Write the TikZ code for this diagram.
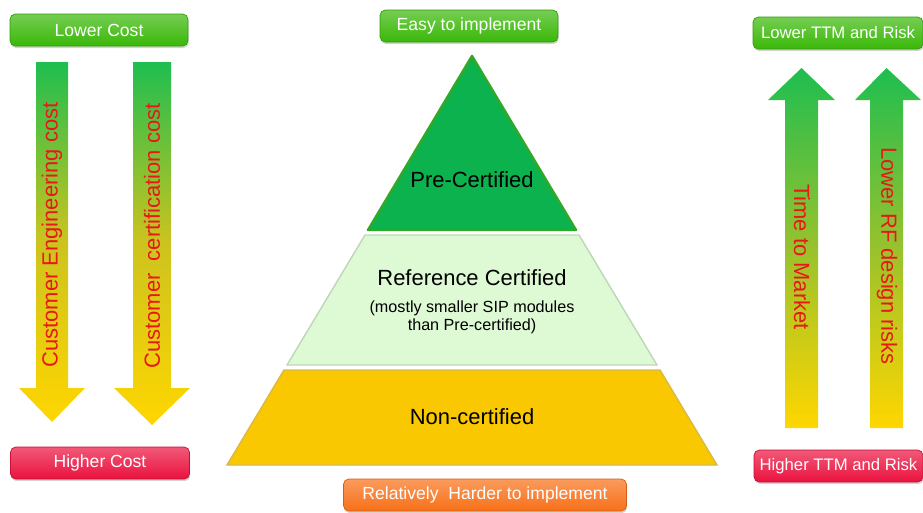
\documentclass[tikz,border=0pt]{standalone}
\usepackage{fontspec}
\setmainfont{Liberation Sans}
\usetikzlibrary{shadows}

\definecolor{tagGreen}{RGB}{58,184,8}
\definecolor{tagRed}{RGB}{234,18,62}
\definecolor{tagOrange}{RGB}{248,112,24}
\definecolor{arrowGreen}{RGB}{30,190,80}
\definecolor{arrowMid}{RGB}{205,195,30}
\definecolor{arrowYellow}{RGB}{255,214,0}
\definecolor{arrowText}{RGB}{232,24,24}
\definecolor{preFill}{RGB}{12,178,78}
\definecolor{preLine}{RGB}{50,168,40}
\definecolor{refFill}{RGB}{222,250,212}
\definecolor{refLine}{RGB}{190,215,185}
\definecolor{nonFill}{RGB}{250,200,0}
\definecolor{nonLine}{RGB}{215,185,70}

\begin{document}
\begin{tikzpicture}[x=0.02cm, y=-0.02cm,
    tag/.style={rounded corners=3pt, top color=#1!70!white, bottom color=#1, draw=#1!85!black,
        text=white, font=\fontsize{10}{12}\selectfont, minimum height=0.64cm, inner sep=0pt,
        drop shadow={opacity=0.35, shadow xshift=0.4pt, shadow yshift=-1.2pt}},
    arrowtext/.style={text=arrowText, font=\fontsize{12.5}{14}\selectfont},
    layertext/.style={font=\fontsize{12.5}{14}\selectfont},
    notetext/.style={font=\fontsize{9.2}{10.2}\selectfont, align=center}]
    % Fix the page size
    \useasboundingbox (0,0) rectangle (923,512);

    % Draw the cost arrows (pointing down)
    \foreach \l/\r/\hl/\hr/\tip in {36/68/19/85/422, 133/171/114/190/425} {
        \shade[top color=arrowGreen, bottom color=arrowYellow, middle color=arrowMid]
            (\l,62) -- (\r,62) -- (\r,388) -- (\hr,388) -- ({(\l+\r)/2},\tip) -- (\hl,388) -- (\l,388) -- cycle;
    }

    % Draw the TTM arrows (pointing up)
    \foreach \l/\r/\hl/\hr/\tip in {785/818/768/835/68, 870/903/855/921/68} {
        \shade[top color=arrowGreen, bottom color=arrowYellow, middle color=arrowMid!70!arrowGreen]
            ({(\l+\r)/2},\tip) -- (\hr,100) -- (\r,100) -- (\r,428) -- (\l,428) -- (\l,100) -- (\hl,100) -- cycle;
    }

    % Arrow labels
    \node[arrowtext, rotate=90] (engcost) at (52,235) {Customer Engineering cost};
    \node[arrowtext, rotate=90] (certcost) at (152,236) {Customer\ \ certification cost};
    \node[arrowtext, rotate=-90] (ttm) at (802,257) {Time to Market};
    \node[arrowtext, rotate=-90] (rfrisk) at (887,256) {Lower RF design risks};

    % Draw the pyramid layers
    \coordinate (apex) at (472,56);
    \filldraw[fill=preFill, draw=preLine, line width=1.4pt, line join=round]
        (apex) -- (576,230) -- (368,230) -- cycle;
    \filldraw[fill=refFill, draw=refLine, line width=0.8pt]
        (365,235) -- (579,235) -- (657,365) -- (287,365) -- cycle;
    \filldraw[fill=nonFill, draw=nonLine, line width=0.8pt]
        (284,370) -- (660,370) -- (717,465) -- (227,465) -- cycle;

    % Layer labels
    \node[layertext] (precert) at (472,180) {Pre-Certified};
    \node[layertext] (refcert) at (472,278) {Reference Certified};
    \node[notetext] (refnote) at (472,317) {(mostly smaller SIP modules\\than Pre-certified)};
    \node[layertext] (noncert) at (472,417) {Non-certified};

    % Tags round the picture
    \node[tag=tagGreen, minimum width=3.56cm] (lowcost) at (99,30) {Lower Cost};
    \node[tag=tagRed, minimum width=3.58cm] (highcost) at (100,463) {Higher Cost};
    \node[tag=tagGreen, minimum width=3.56cm] (easy) at (469,26) {Easy to implement};
    \node[tag=tagOrange, minimum width=5.66cm] (harder) at (485,495) {Relatively\ \ Harder to implement};
    \node[tag=tagGreen, minimum width=3.4cm, font=\fontsize{9.5}{11}\selectfont] (lowttm) at (838,33) {Lower TTM and Risk};
    \node[tag=tagRed, minimum width=3.38cm, font=\fontsize{9.5}{11}\selectfont] (highttm) at (838.5,466) {Higher TTM and Risk};
\end{tikzpicture}
\end{document}
